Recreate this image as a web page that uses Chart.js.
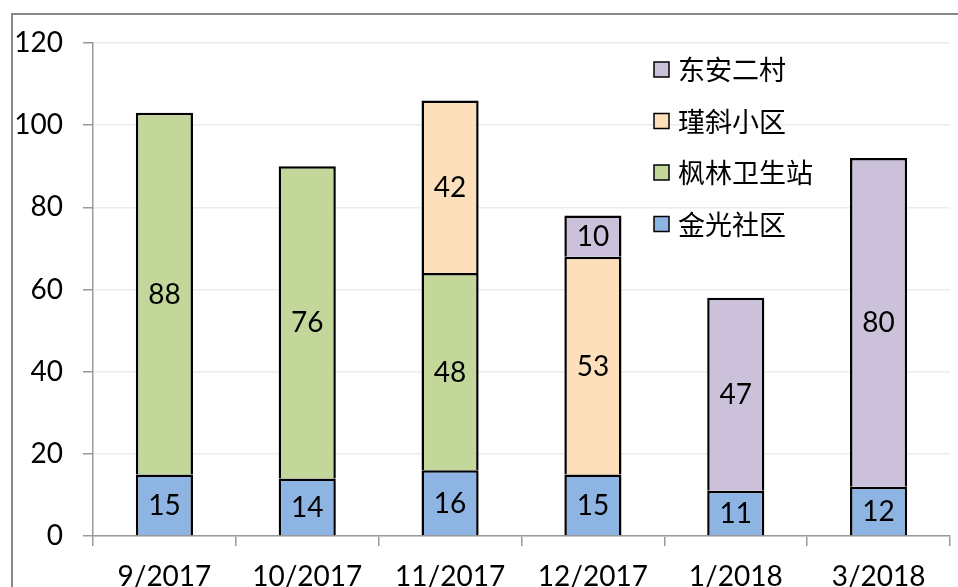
<!DOCTYPE html>
<html>
<head>
<meta charset="utf-8">
<script src="https://cdn.jsdelivr.net/npm/chart.js@4.4.1/dist/chart.umd.min.js"></script>
<style>
  body { margin: 0; background: #fff; }
  #wrap { position: relative; width: 958px; height: 587px; overflow: hidden; }
  #frame { position: absolute; left: 11px; top: 13px; width: 1000px; height: 700px; border-left: 2px solid #888; border-top: 2px solid #888; }
  canvas { position: absolute; left: 0; top: 0; }
</style>
</head>
<body>
<div id="wrap">
  <div id="frame"></div>
  <canvas id="chart" width="958" height="587"></canvas>
</div>
<script>
const months = ['9/2017', '10/2017', '11/2017', '12/2017', '1/2018', '3/2018'];
const jinguang = [15, 14, 16, 15, 11, 12];
const fenglin = [88, 76, 48, null, null, null];
const jinxie = [null, null, 42, 53, null, null];
const dongan = [null, null, null, 10, 47, 80];
const yTicks = [0, 20, 40, 60, 80, 100, 120];

const numFont = 'Lato, "Open Sans", sans-serif';
const cjkFont = '"Noto Sans CJK SC", sans-serif';

// labels in the middle of each bar piece
const segmentLabels = {
    id: 'segmentLabels',
    afterDatasetsDraw(chart) {
        const ctx = chart.ctx;
        ctx.save();
        ctx.font = '28px ' + numFont;
        ctx.fillStyle = '#000';
        ctx.textAlign = 'center';
        ctx.textBaseline = 'middle';
        chart.data.datasets.forEach((ds, i) => {
            chart.getDatasetMeta(i).data.forEach((bar, j) => {
                const v = ds.data[j];
                if (v == null) return;
                ctx.fillText(String(v), bar.x, (bar.y + bar.base) / 2 + 1);
            });
        });
        ctx.restore();
    }
};

// legend inside the plot, top right, last series first
const boxLegend = {
    id: 'boxLegend',
    afterDraw(chart) {
        const ctx = chart.ctx;
        const x = 654, y0 = 70, step = 51.5;
        ctx.save();
        ctx.font = '27px ' + cjkFont;
        ctx.textBaseline = 'middle';
        const list = chart.data.datasets.slice().reverse();
        list.forEach((ds, k) => {
            const y = y0 + k * step;
            ctx.fillStyle = ds.backgroundColor;
            ctx.fillRect(x, y - 8, 15, 15);
            ctx.strokeStyle = '#000';
            ctx.lineWidth = 1.5;
            ctx.strokeRect(x, y - 8, 15, 15);
            ctx.fillStyle = '#000';
            ctx.fillText(ds.label, x + 24, y);
        });
        ctx.restore();
    }
};

function makeSet(label, data, color) {
    return {
        label: label,
        data: data,
        backgroundColor: color,
        borderColor: '#000',
        borderWidth: 2.5,
        borderSkipped: 'start',
        inflateAmount: 0,
        categoryPercentage: 1,
        barPercentage: 0.4
    };
}

const ctx = document.getElementById('chart').getContext('2d');
const chart = new Chart(ctx, {
    type: 'bar',
    data: {
        labels: months,
        datasets: [
            makeSet('金光社区', jinguang, '#8eb4e3'),
            makeSet('枫林卫生站', fenglin, '#c4d79b'),
            makeSet('瑾斜小区', jinxie, '#fde0bb'),
            makeSet('东安二村', dongan, '#ccc1da')
        ]
    },
    plugins: [segmentLabels, boxLegend],
    options: {
        responsive: false,
        animation: false,
        layout: { padding: { left: 11, right: 8, top: 43, bottom: 0 } },
        plugins: {
            legend: { display: false },
            tooltip: { enabled: false }
        },
        scales: {
            x: {
                stacked: true,
                afterFit(s) { s.height = 51; },
                grid: { drawOnChartArea: false, drawTicks: true, tickLength: 10, tickColor: '#999', lineWidth: 1.5 },
                border: { display: true, color: '#999', width: 1.5 },
                ticks: { color: '#000', font: { family: numFont, size: 28 }, padding: 14, maxRotation: 0 }
            },
            y: {
                stacked: true,
                min: 0,
                max: 120,
                afterFit(s) { s.width = 82; },
                afterBuildTicks(s) { s.ticks = yTicks.map(v => ({ value: v })); },
                grid: { color: '#ececec', lineWidth: 1.5, tickColor: '#999', tickLength: 10 },
                border: { display: true, color: '#999', width: 1.5 },
                ticks: { color: '#000', font: { family: numFont, size: 28 }, padding: 20 }
            }
        }
    }
});
</script>
</body>
</html>
